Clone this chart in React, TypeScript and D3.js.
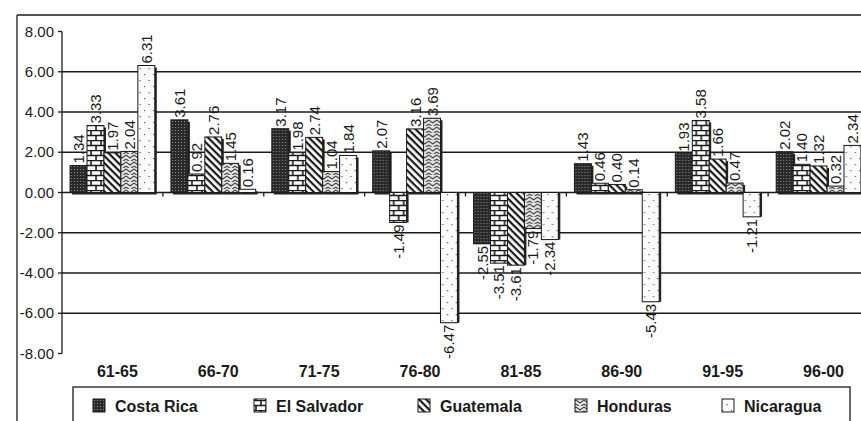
import React from "react";
import * as d3 from "d3";

const categories = ["61-65", "66-70", "71-75", "76-80", "81-85", "86-90", "91-95", "96-00"];
const seriesNames = ["Costa Rica", "El Salvador", "Guatemala", "Honduras", "Nicaragua"];
const costaRica = [1.34, 3.61, 3.17, 2.07, -2.55, 1.43, 1.93, 2.02];
const elSalvador = [3.33, 0.92, 1.98, -1.49, -3.51, 0.46, 3.58, 1.4];
const guatemala = [1.97, 2.76, 2.74, 3.16, -3.61, 0.4, 1.66, 1.32];
const honduras = [2.04, 1.45, 1.04, 3.69, -1.79, 0.14, 0.47, 0.32];
const nicaragua = [6.31, 0.16, 1.84, -6.47, -2.34, -5.43, -1.21, 2.34];
const yTicks = [8, 6, 4, 2, 0, -2, -4, -6, -8];

const seriesValues = [costaRica, elSalvador, guatemala, honduras, nicaragua];
const patternIds = ["pCR", "pES", "pGU", "pHO", "pNI"];

// legend layout (swatch left edges)
const legendX = [93, 254, 418, 575, 722];

const W = 861;
const H = 421;
const FONT = "'Liberation Sans', Arial, sans-serif";
const INK = "#1a1a1a";

const App = () => {
  const x = d3.scaleBand().domain(categories).range([62, 869]).paddingInner(0.16).paddingOuter(0.08);
  const xs = d3.scaleBand().domain(seriesNames).range([0, x.bandwidth()]).padding(0);
  const y = d3.scaleLinear().domain([-8, 8]).range([353.5, 31.5]);
  const fmt2 = d3.format(".2f");
  const fmt = (v: number) => fmt2(v).replace("\u2212", "-");
  const step = x.step();

  return (
    <svg width={W} height={H} style={{ position: "absolute", left: 0, top: 0, background: "#fff" }}>
      <defs>
        <pattern id="pCR" width="3" height="3" patternUnits="userSpaceOnUse">
          <rect width="3" height="3" fill="#2a2a2a" />
          <rect x="1" y="1" width="1" height="1" fill="#888" />
        </pattern>
        <pattern id="pES" width="10" height="10" patternUnits="userSpaceOnUse">
          <rect width="10" height="10" fill="#fff" />
          <path d="M0 0.5H10M0 5.5H10M1 0V5.5M6 5.5V10" stroke={INK} strokeWidth="1.6" />
        </pattern>
        <pattern id="pGU" width="5" height="5" patternUnits="userSpaceOnUse" patternTransform="rotate(45)">
          <rect width="5" height="5" fill="#fff" />
          <rect x="0" y="0" width="5" height="2.2" fill={INK} />
        </pattern>
        <pattern id="pHO" width="8" height="7" patternUnits="userSpaceOnUse">
          <rect width="8" height="7" fill="#e8e8e8" />
          <path d="M0 1L4 4L8 1M0 5L4 8L8 5" stroke="#444" strokeWidth="1.1" fill="none" />
        </pattern>
        <pattern id="pNI" width="9" height="12" patternUnits="userSpaceOnUse">
          <rect width="9" height="12" fill="#fbfbfb" />
          <rect x="2" y="2" width="1.2" height="1.2" fill="#555" />
          <rect x="6.5" y="8" width="1.2" height="1.2" fill="#555" />
        </pattern>
      </defs>

      {/* outer frame */}
      <line x1={17} y1={15} x2={W} y2={15} stroke={INK} strokeWidth={1.3} />
      <line x1={17} y1={15} x2={17} y2={H} stroke={INK} strokeWidth={1.3} />

      {/* gridlines */}
      {yTicks.filter((t) => t > -8 && t < 8).map((t) => (
        <line key={t} x1={62} x2={W} y1={y(t)} y2={y(t)} stroke={INK} strokeWidth={1.3} />
      ))}

      {/* y axis */}
      <line x1={62} x2={62} y1={y(8)} y2={y(-8)} stroke={INK} strokeWidth={1.3} />
      {yTicks.map((t) => (
        <g key={t}>
          <line x1={58} x2={62} y1={y(t)} y2={y(t)} stroke={INK} strokeWidth={1.3} />
          <text x={54} y={y(t) + 5} textAnchor="end" fontFamily={FONT} fontSize={15} fill={INK}>
            {fmt(t)}
          </text>
        </g>
      ))}

      {/* x ticks */}
      {categories.slice(1).map((c) => (
        <line key={c} x1={x(c)! - (step - x.bandwidth()) / 2} x2={x(c)! - (step - x.bandwidth()) / 2} y1={y(0)} y2={y(0) + 4} stroke={INK} strokeWidth={1.3} />
      ))}

      {/* bars */}
      {categories.map((c, ci) => (
        <g key={c} transform={`translate(${x(c)},0)`}>
          {seriesNames.map((s, si) => {
            const v = seriesValues[si][ci];
            const top = Math.min(y(v), y(0));
            const h = Math.abs(y(v) - y(0));
            const bx = xs(s)!;
            const bw = xs.bandwidth();
            return (
              <g key={s}>
                <rect x={bx + 2} y={top + (v >= 0 ? 2 : 0)} width={bw} height={Math.max(h, 1)} fill="#222" />
                <rect x={bx} y={top} width={bw} height={Math.max(h, 1)} fill={`url(#${patternIds[si]})`} stroke={INK} strokeWidth={1} />
              </g>
            );
          })}
        </g>
      ))}

      {/* value labels */}
      {categories.map((c, ci) =>
        seriesNames.map((s, si) => {
          const v = seriesValues[si][ci];
          const cx = x(c)! + xs(s)! + xs.bandwidth() / 2 + 5.5;
          const ly = v >= 0 ? y(v) - 2 : y(v) + 2;
          return (
            <text
              key={c + s}
              transform={`translate(${cx},${ly}) rotate(-90)`}
              textAnchor={v >= 0 ? "start" : "end"}
              fontFamily={FONT}
              fontSize={15}
              fill={INK}
            >
              {fmt(v)}
            </text>
          );
        })
      )}

      {/* category labels */}
      {categories.map((c) => (
        <text key={c} x={x(c)! + x.bandwidth() / 2 + 5} y={377} textAnchor="middle" fontFamily={FONT} fontSize={16} fontWeight="bold" fill={INK}>
          {c}
        </text>
      ))}

      {/* legend */}
      <rect x={73} y={387} width={777} height={50} fill="#fff" stroke={INK} strokeWidth={1.3} />
      {seriesNames.map((s, si) => (
        <g key={s}>
          <rect x={legendX[si]} y={399} width={12} height={13} fill={`url(#${patternIds[si]})`} stroke={INK} strokeWidth={1} />
          <text x={legendX[si] + 22} y={412} fontFamily={FONT} fontSize={16} fontWeight="bold" fill={INK}>
            {s}
          </text>
        </g>
      ))}
    </svg>
  );
};

export default App;
